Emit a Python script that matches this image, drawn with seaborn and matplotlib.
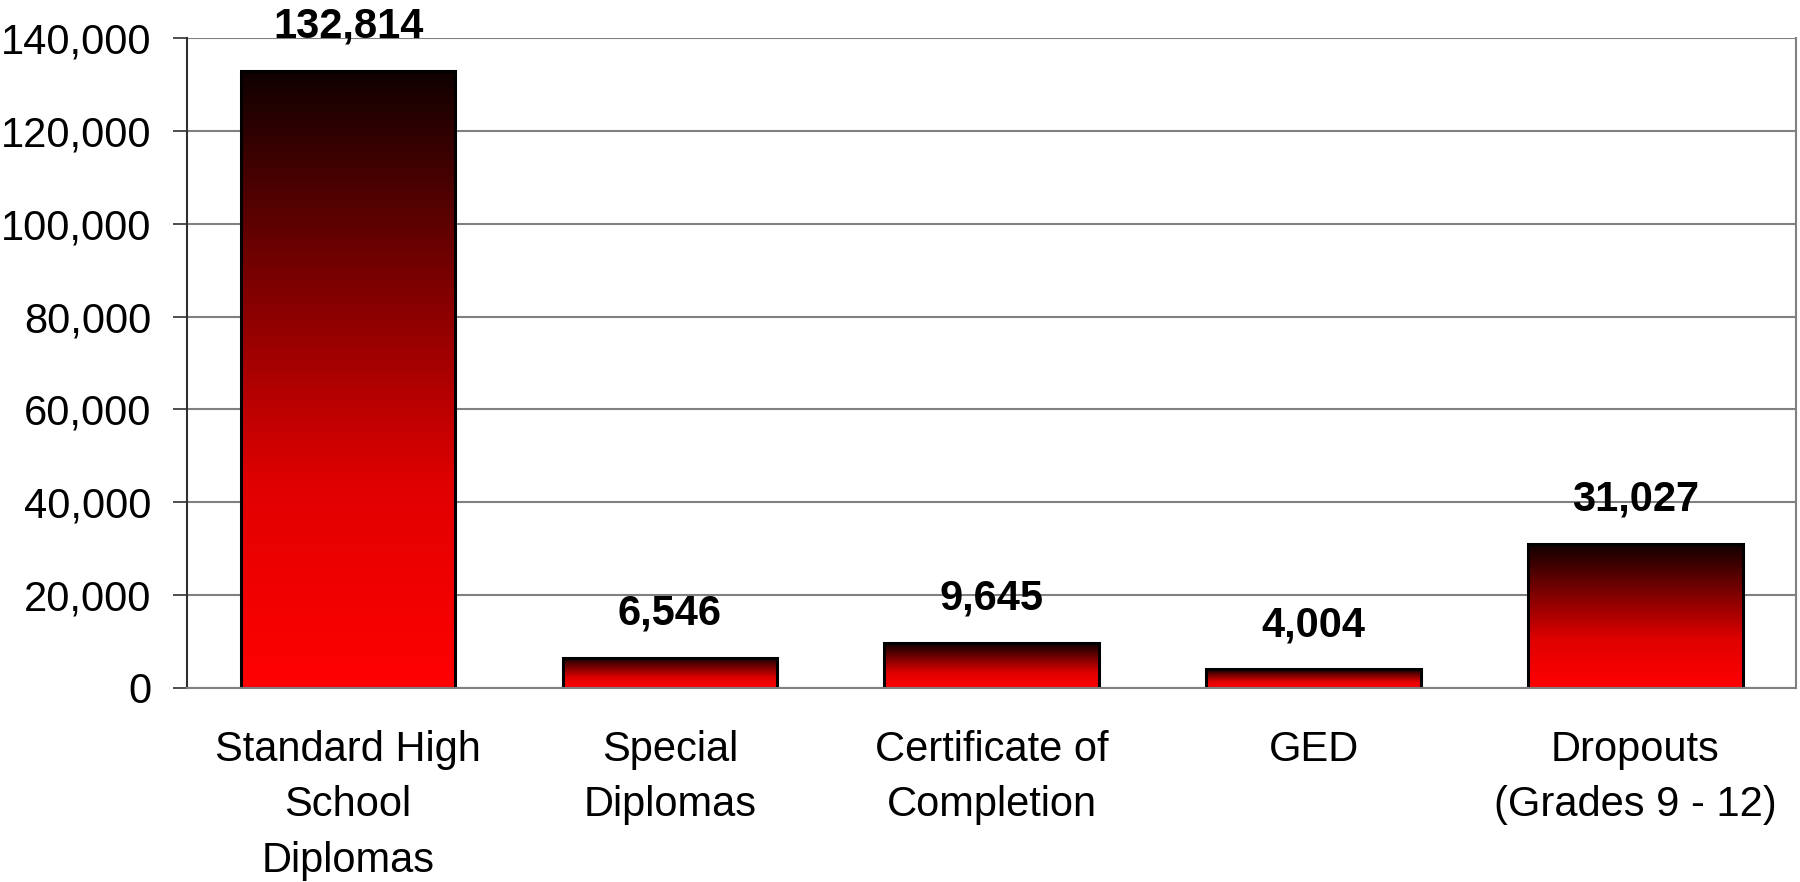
import numpy as np
import pandas as pd
import matplotlib
matplotlib.use("Agg")
import matplotlib.pyplot as plt
import seaborn as sns
from matplotlib.colors import LinearSegmentedColormap


# Chart data
categories = [
    "Standard High\nSchool\nDiplomas",
    "Special\nDiplomas",
    "Certificate of\nCompletion",
    "GED",
    "Dropouts\n(Grades 9 - 12)",
]
counts = [132814, 6546, 9645, 4004, 31027]
y_ticks = [0, 20000, 40000, 60000, 80000, 100000, 120000, 140000]

df = pd.DataFrame({"Category": categories, "Count": counts})

sns.set_style("white")
plt.rcParams["font.family"] = ["Liberation Sans", "DejaVu Sans"]
plt.rcParams["text.color"] = "black"

fig = plt.figure(figsize=(18, 8.82), dpi=100)
ax = fig.add_axes([0.104, 0.22, 0.894, 0.737])

sns.barplot(
    data=df,
    x="Category",
    y="Count",
    color="red",
    width=0.667,
    edgecolor="black",
    linewidth=2.2,
    ax=ax,
)

ax.set_ylim(0, 140000)
ax.set_xlim(-0.5, 4.5)
ax.set_yticks(y_ticks)
ax.set_yticklabels([f"{v:,}" for v in y_ticks], fontsize=30)
ax.set_xlabel("")
ax.set_ylabel("")

# Gradient fill, dark at the top, red at the bottom
cmap = LinearSegmentedColormap.from_list("redgrad", ["#ff0000", "#e00000", "#7a0000", "#100000"])
grad = np.linspace(0, 1, 256).reshape(-1, 1)
for patch in ax.patches:
    x, y = patch.get_x(), patch.get_y()
    w, h = patch.get_width(), patch.get_height()
    im = ax.imshow(grad, cmap=cmap, origin="lower", aspect="auto",
                   extent=[x, x + w, y, y + h], zorder=patch.get_zorder())
    im.set_clip_path(patch)
    patch.set_facecolor("none")
    patch.set_zorder(patch.get_zorder() + 0.1)

ax.set_xlim(-0.5, 4.5)
ax.set_ylim(0, 140000)

# Value labels
for i, v in enumerate(counts):
    ax.annotate(f"{v:,}", (i, v), xytext=(0, 24), textcoords="offset points",
                ha="center", va="baseline", fontsize=30, fontweight="bold",
                color="black")

# Grid and spines
ax.yaxis.grid(True, color="#808080", linewidth=1.5)
ax.set_axisbelow(True)
ax.spines["top"].set_visible(False)
ax.spines["right"].set_visible(True)
ax.spines["right"].set_color("#808080")
ax.spines["right"].set_linewidth(1.5)
ax.spines["left"].set_color("#303030")
ax.spines["left"].set_linewidth(1.5)
ax.spines["bottom"].set_color("#808080")
ax.spines["bottom"].set_linewidth(1.5)

# Ticks at category boundaries
ax.tick_params(axis="x", which="major", length=0, pad=30, labelsize=30, labelcolor="black")
ax.set_xticks(np.arange(-0.5, 5, 1), minor=True)
ax.tick_params(axis="x", which="minor", length=10, width=1.2, color="#404040", direction="out")
ax.tick_params(axis="y", length=10, width=1.2, color="#303030", direction="out", pad=16,
               left=True, labelcolor="black")
for lab in ax.get_xticklabels():
    lab.set_linespacing(1.5)

fig.savefig("out.png", dpi=100)
